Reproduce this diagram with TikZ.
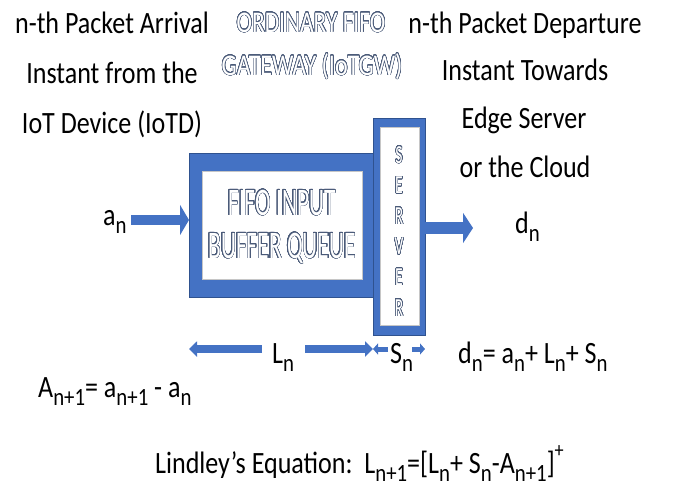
\documentclass[tikz,border=0pt]{standalone}
\usepackage{fontspec}
\setmainfont{Carlito}[FakeStretch=0.84]
\newfontfamily\outfont{Carlito}[FakeStretch=0.8]
\newfontfamily\outfontw{Carlito}[FakeStretch=0.78]
\newfontfamily\boxfont{Carlito}[FakeStretch=0.6]
\usepackage[copies]{contour}
\contourlength{0.5pt}
\contournumber{32}
\usetikzlibrary{arrows.meta}
\definecolor{offblue}{HTML}{4472C4}
\definecolor{darkblue}{HTML}{2F528F}
\definecolor{outl}{HTML}{4A5A78}
\newcommand\lowidx[1]{\raisebox{-0.28em}{\scalebox{0.8}{#1}}}
\newcommand\highidx[1]{\raisebox{0.5em}{\scalebox{0.7}{#1}}}
\newcommand\outl[1]{\textcolor{white}{\contour{outl}{#1}}}
\tikzset{
  txt/.style={inner sep=0pt, font=\fontsize{31}{31}\selectfont},
  ttl/.style={inner sep=0pt, anchor=base, font=\outfont\fontsize{30}{30}\selectfont},
  boxtxt/.style={inner sep=0pt, anchor=base, font=\boxfont\fontsize{39}{39}\selectfont},
  srvtxt/.style={inner sep=0pt, anchor=base, font=\boxfont\fontsize{26}{26}\selectfont},
  frame/.style={fill=offblue, draw=darkblue, line width=0.4pt, outer sep=0pt, inner sep=0pt},
  inner/.style={fill=white, draw=gray!45, line width=0.6pt, outer sep=0pt, inner sep=0pt},
  bigarrow/.style={offblue, line width=#1},
}
\begin{document}
\begin{tikzpicture}[x=1pt,y=-1pt]
\useasboundingbox (0,0) rectangle (676,496);
% headings
\node[txt, anchor=base] (h1) at (112,33) {n-th Packet Arrival};
\node[txt, anchor=base] (h2) at (112,83) {Instant from the};
\node[txt, anchor=base] (h3) at (112,133) {IoT Device (IoTD)};
\node[txt, anchor=base] (r1) at (525,33) {n-th Packet Departure};
\node[txt, anchor=base] (r2) at (525,80) {Instant Towards};
\node[txt, anchor=base] (r3) at (524,128) {Edge Server};
\node[txt, anchor=base] (r4) at (525,177) {or the Cloud};
\node[ttl, font=\outfontw\fontsize{30}{30}\selectfont] (t1) at (311,32) {\outl{ORDINARY FIFO}};
\node[ttl] (t2) at (312,75) {\outl{GATEWAY (IoTGW)}};
% queue
\node[frame, minimum width=184pt, minimum height=144pt] (queue) at (281,225) {};
\node[inner, minimum width=160pt, minimum height=108pt] (qin) at (282,225) {};
\node[boxtxt] (q1) at (282,215) {\outl{FIFO INPUT}};
\node[boxtxt] (q2) at (282,258) {\outl{BUFFER QUEUE}};
% server
\node[frame, minimum width=52pt, minimum height=217pt] (server) at (399,226.5) {};
\node[inner, minimum width=39pt, minimum height=198pt] (sin) at (399.5,226) {};
\foreach \ch [count=\i] in {S,E,R,V,E,R}
  \node[srvtxt] (sv\i) at (399,132.4+30.6*\i) {\outl{\ch}};
% in / out arrows
\coordinate (inS) at (131,220);
\coordinate (outE) at (473,228);
\draw[bigarrow=10pt, -{Triangle[length=9pt,width=30pt]}] (inS) -- (queue.west |- inS);
\draw[bigarrow=12pt, -{Triangle[length=10pt,width=30pt]}] (server.east |- outE) -- (outE);
\node[txt, anchor=base west] (an) at (103,225) {a\lowidx{n}};
\node[txt, anchor=base west] (dn) at (515,233) {d\lowidx{n}};
% bottom arrows
\coordinate (LL) at (262,349);
\coordinate (LR) at (305,349);
\coordinate (SL) at (388,349);
\coordinate (SR) at (412,349);
\draw[bigarrow=8pt, -{Triangle[length=8pt,width=15pt]}] (LL) -- (queue.west |- LL);
\draw[bigarrow=8pt, -{Triangle[length=8pt,width=15pt]}] (LR) -- (server.west |- LR);
\draw[bigarrow=5pt, -{Triangle[length=5pt,width=11pt]}] (SL) -- (server.west |- SL);
\draw[bigarrow=5pt, -{Triangle[length=5pt,width=11pt]}] (SR) -- (server.east |- SR);
\node[txt, anchor=base west] (ln) at (272,363) {L\lowidx{n}};
\node[txt, anchor=base west] (sn) at (390,363) {S\lowidx{n}};
% equations
\node[txt, anchor=base west] (e1) at (458,363) {d\lowidx{n}= a\lowidx{n}+ L\lowidx{n}+ S\lowidx{n}};
\node[txt, anchor=base west] (e2) at (38,397) {A\lowidx{n+1}= a\lowidx{n+1} - a\lowidx{n}};
\node[txt, anchor=base west] (e3) at (155,473) {Lindley’s Equation:\ \ L\lowidx{n+1}=[L\lowidx{n}+ S\lowidx{n}-A\lowidx{n+1}]\highidx{+}};
\end{tikzpicture}
\end{document}
